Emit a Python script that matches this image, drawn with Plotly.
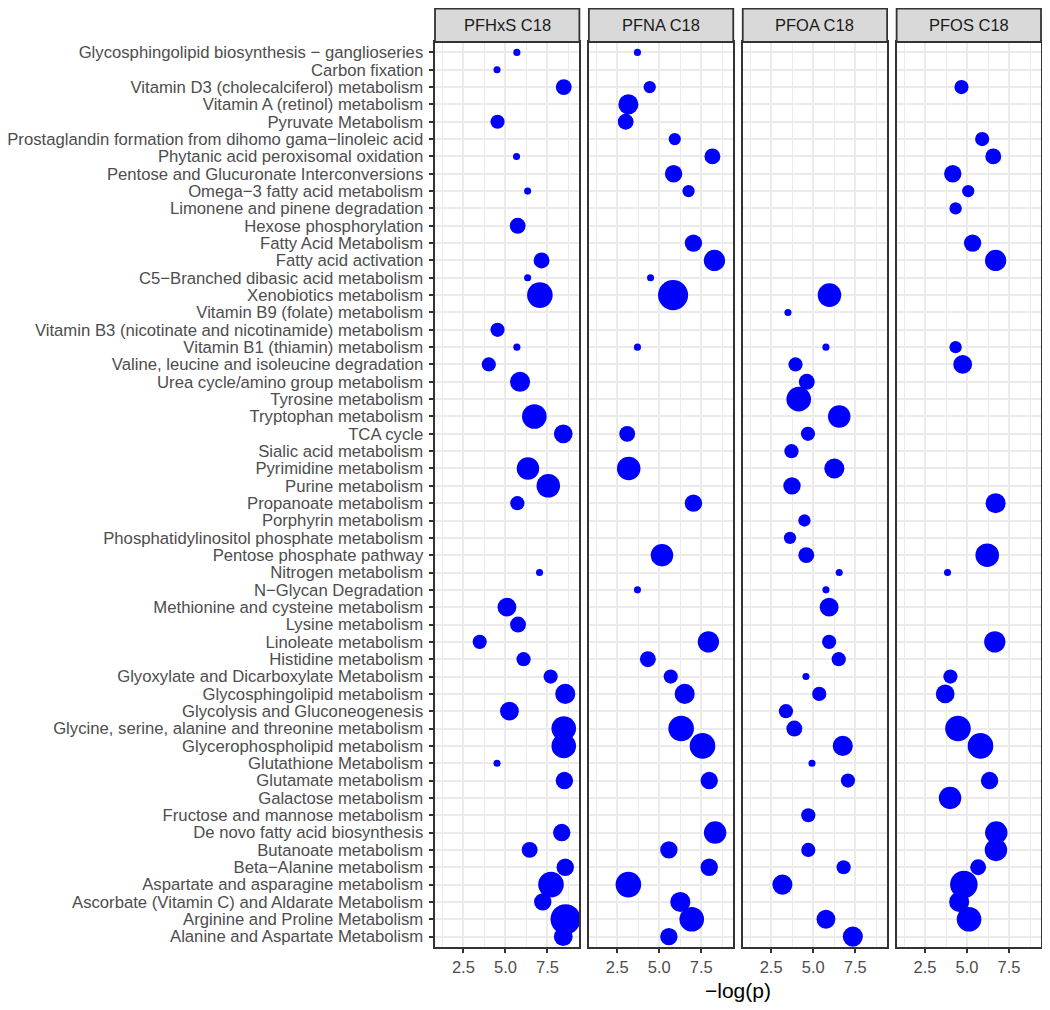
import plotly.graph_objs as go
from plotly.subplots import make_subplots
import numpy
import pandas

# pathways, top to bottom as they appear on the chart
pathways = [
    'Glycosphingolipid biosynthesis \u2212 ganglioseries',
    'Carbon fixation',
    'Vitamin D3 (cholecalciferol) metabolism',
    'Vitamin A (retinol) metabolism',
    'Pyruvate Metabolism',
    'Prostaglandin formation from dihomo gama\u2212linoleic acid',
    'Phytanic acid peroxisomal oxidation',
    'Pentose and Glucuronate Interconversions',
    'Omega\u22123 fatty acid metabolism',
    'Limonene and pinene degradation',
    'Hexose phosphorylation',
    'Fatty Acid Metabolism',
    'Fatty acid activation',
    'C5\u2212Branched dibasic acid metabolism',
    'Xenobiotics metabolism',
    'Vitamin B9 (folate) metabolism',
    'Vitamin B3 (nicotinate and nicotinamide) metabolism',
    'Vitamin B1 (thiamin) metabolism',
    'Valine, leucine and isoleucine degradation',
    'Urea cycle/amino group metabolism',
    'Tyrosine metabolism',
    'Tryptophan metabolism',
    'TCA cycle',
    'Sialic acid metabolism',
    'Pyrimidine metabolism',
    'Purine metabolism',
    'Propanoate metabolism',
    'Porphyrin metabolism',
    'Phosphatidylinositol phosphate metabolism',
    'Pentose phosphate pathway',
    'Nitrogen metabolism',
    'N\u2212Glycan Degradation',
    'Methionine and cysteine metabolism',
    'Lysine metabolism',
    'Linoleate metabolism',
    'Histidine metabolism',
    'Glyoxylate and Dicarboxylate Metabolism',
    'Glycosphingolipid metabolism',
    'Glycolysis and Gluconeogenesis',
    'Glycine, serine, alanine and threonine metabolism',
    'Glycerophospholipid metabolism',
    'Glutathione Metabolism',
    'Glutamate metabolism',
    'Galactose metabolism',
    'Fructose and mannose metabolism',
    'De novo fatty acid biosynthesis',
    'Butanoate metabolism',
    'Beta\u2212Alanine metabolism',
    'Aspartate and asparagine metabolism',
    'Ascorbate (Vitamin C) and Aldarate Metabolism',
    'Arginine and Proline Metabolism',
    'Alanine and Aspartate Metabolism',
]

panels = ['PFHxS C18', 'PFNA C18', 'PFOA C18', 'PFOS C18']

N = None
# -log(p) per pathway (None = not enriched)
pfhxs_logp = [5.68, 4.50, 8.47, N, 4.53, N, 5.66, N, 6.32, N,
              5.73, N, 7.15, 6.32, 7.05, N, 4.53, 5.68, 4.01, 5.87,
              N, 6.72, 8.44, N, 6.34, 7.55, 5.71, N, N, N,
              7.03, N, 5.09, 5.75, 3.47, 6.08, 7.69, 8.56, 5.24, 8.47,
              8.47, 4.50, 8.51, N, N, 8.35, 6.44, 8.56, 7.71, 7.22,
              8.58, 8.44]
pfhxs_hits = [1, 1, 5, N, 4, N, 1, N, 1, N,
              5, N, 5, 1, 13, N, 4, 1, 4, 8,
              N, 12, 7, N, 10, 11, 4, N, N, N,
              1, N, 7, 5, 4, 4, 4, 8, 7, 12,
              12, 1, 6, N, N, 6, 5, 6, 13, 6,
              18, 7]

pfna_logp = [3.70, N, 4.43, 3.16, 3.00, 5.92, 8.16, 5.85, 6.74, N,
             N, 7.03, 8.28, 4.48, 5.82, N, N, 3.70, N, N,
             N, N, 3.09, N, 3.18, N, 7.03, N, N, 5.16,
             N, 3.70, N, N, 7.92, 4.32, 5.68, 6.51, N, 6.30,
             7.57, N, 7.97, N, N, 8.32, 5.57, 7.97, 3.16, 6.25,
             6.93, 5.57]
pfna_hits = [1, N, 3, 8, 5, 3, 5, 6, 3, N,
             N, 6, 9, 1, 18, N, N, 1, N, N,
             N, N, 5, N, 11, N, 6, N, N, 10,
             N, 1, N, N, 9, 5, 4, 8, N, 13,
             13, N, 6, N, N, 10, 6, 6, 13, 8,
             12, 6]

pfoa_logp = [N, N, N, N, N, N, N, N, N, N,
             N, N, N, N, 5.97, 3.50, N, 5.76, 3.95, 4.62,
             4.14, 6.55, 4.69, 3.71, 6.26, 3.74, N, 4.48, 3.62, 4.59,
             6.55, 5.76, 5.95, N, 5.95, 6.52, 4.57, 5.36, 3.38, 3.88,
             6.76, 4.93, 7.07, N, 4.71, N, 4.71, 6.81, 3.17, N,
             5.76, 7.36]
pfoa_hits = [N, N, N, N, N, N, N, N, N, N,
             N, N, N, N, 11, 1, N, 1, 4, 5,
             12, 10, 4, 4, 8, 6, N, 3, 3, 5,
             1, 1, 7, N, 4, 4, 1, 4, 4, 5,
             8, 1, 4, N, 4, N, 4, 4, 8, N,
             7, 8]

pfos_logp = [N, N, 4.67, N, N, 5.90, 6.56, 4.15, 5.07, 4.32,
             N, 5.33, 6.70, N, N, N, N, 4.32, 4.74, N,
             N, N, N, N, N, N, 6.70, N, N, 6.20,
             3.84, N, N, N, 6.65, N, 4.01, 3.70, N, 4.46,
             5.80, N, 6.34, 3.99, N, 6.74, 6.72, 5.66, 4.81, 4.53,
             5.12, N]
pfos_hits = [N, N, 4, N, N, 4, 5, 6, 3, 3,
             N, 6, 9, N, N, N, N, 3, 7, N,
             N, N, N, N, N, N, 8, N, N, 11,
             1, N, N, N, 9, N, 4, 7, N, 13,
             13, N, 6, 10, N, 10, 10, 5, 15, 8,
             12, N]

x_ticks = [2.5, 5.0, 7.5]


def to_frame(logp, hits):
    df = pandas.DataFrame({'pathway': pathways, 'logp': logp, 'hits': hits})
    return df.dropna()


frames = [to_frame(pfhxs_logp, pfhxs_hits), to_frame(pfna_logp, pfna_hits),
          to_frame(pfoa_logp, pfoa_hits), to_frame(pfos_logp, pfos_hits)]

# page body has an 8px margin, so the figure is 8px smaller than the window
W, H = 1042, 1002
left, right, top, bottom = 427, 8.5, 33.7, 62.7
plot_h = H - top - bottom
plot_w = W - left - right

fig = make_subplots(rows=1, cols=4, shared_yaxes=True,
                    horizontal_spacing=9.5 / plot_w)

for i, df in enumerate(frames):
    # point area proportional to hits
    fig.add_trace(go.Scatter(x=df['logp'], y=df['pathway'], mode='markers',
                             marker=dict(color='#0000FF', size=7.1 * numpy.sqrt(df['hits']),
                                         line=dict(width=0), opacity=1),
                             showlegend=False, hoverinfo='x+y'),
                  row=1, col=i + 1)

border = '#333333'
grid = '#EBEBEB'
font = 'Liberation Sans, Arial, sans-serif'

for i in range(4):
    fig.update_xaxes(range=[0.81, 9.40], tickvals=x_ticks, ticktext=['2.5', '5.0', '7.5'],
                     showgrid=True, gridcolor=grid, gridwidth=1.6,
                     minor=dict(dtick=1.25, tick0=0, showgrid=True, gridcolor=grid, gridwidth=1.1),
                     showline=True, mirror=True, linecolor=border, linewidth=1.8,
                     ticks='outside', ticklen=4.5, tickcolor=border, tickwidth=1.6,
                     tickfont=dict(size=16.5, color='#4D4D4D', family=font),
                     zeroline=False, automargin=False, row=1, col=i + 1)
    fig.update_yaxes(type='category', categoryorder='array', categoryarray=pathways[::-1],
                     tickmode='array', tickvals=pathways,
                     range=[-0.6, len(pathways) - 0.4],
                     showgrid=True, gridcolor=grid, gridwidth=1.6,
                     showline=True, mirror=True, linecolor=border, linewidth=1.8,
                     zeroline=False, automargin=False, row=1, col=i + 1)
    # facet strip
    fig.add_shape(type='rect', xref='x%s domain' % ('' if i == 0 else i + 1), yref='paper',
                  x0=0, x1=1, y0=1, y1=1 + 33.4 / plot_h,
                  fillcolor='#D9D9D9', line=dict(color=border, width=1.8))
    fig.add_annotation(text=panels[i], xref='x%s domain' % ('' if i == 0 else i + 1), yref='paper',
                       x=0.5, y=1 + 16.7 / plot_h, showarrow=False, xanchor='center', yanchor='middle',
                       font=dict(size=16.5, color='#1A1A1A', family=font))

fig.update_yaxes(ticks='outside', ticklen=4.5, tickcolor=border, tickwidth=1.6,
                 ticklabelstandoff=2,
                 tickfont=dict(size=16.7, color='#4D4D4D', family=font), row=1, col=1)

fig.add_annotation(text='\u2212log(p)', xref='paper', yref='paper', x=0.5, y=-44 / plot_h,
                   showarrow=False, xanchor='center', yanchor='middle',
                   font=dict(size=21, color='#000000', family=font))

fig.update_layout(width=W, height=H, margin=dict(l=left, r=right, t=top, b=bottom),
                  plot_bgcolor='white', paper_bgcolor='white',
                  font=dict(family=font))

fig.write_html("out.html")
